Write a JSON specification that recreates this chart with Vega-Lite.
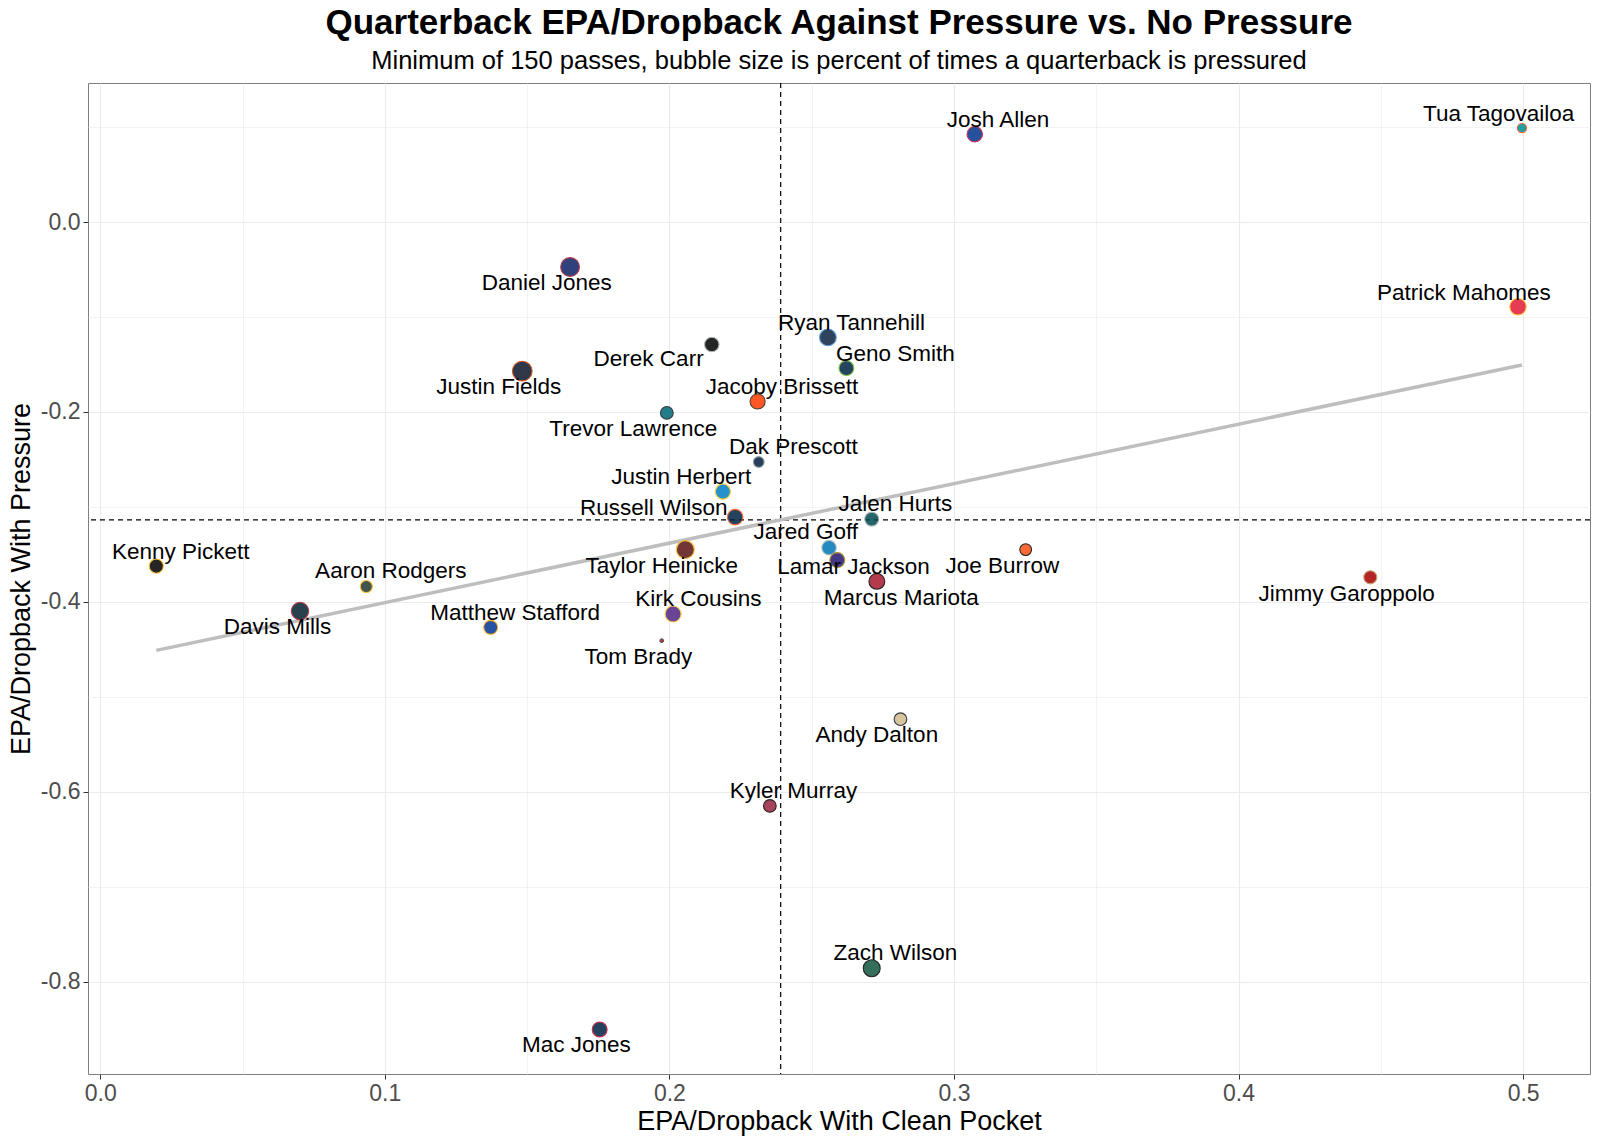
{
  "$schema": "https://vega.github.io/schema/vega-lite/v6.json",
  "width": 1502,
  "height": 991,
  "autosize": {"type": "none"},
  "padding": {"left": 88, "top": 83, "right": 10, "bottom": 69},
  "config": {
    "view": {"stroke": "#7f7f7f", "strokeWidth": 1},
    "font": "Liberation Sans"
  },
  "title": {
    "text": "Quarterback EPA/Dropback Against Pressure vs. No Pressure",
    "subtitle": "Minimum of 150 passes, bubble size is percent of times a quarterback is pressured",
    "anchor": "middle",
    "frame": "group",
    "font": "Liberation Sans",
    "subtitleFont": "Liberation Sans",
    "fontSize": 35,
    "fontWeight": "bold",
    "subtitleFontSize": 25.5,
    "color": "#000000",
    "subtitleColor": "#000000",
    "offset": 8,
    "subtitlePadding": 8
  },
  "data": {
    "values": [
      {"player": "Tua Tagovailoa", "fill": "#008E97", "stroke": "#FC4C02", "clean": 0.4996, "press": 0.099, "pct": 19.9, "lx": 0.4914, "ly": 0.114},
      {"player": "Josh Allen", "fill": "#00338D", "stroke": "#C60C30", "clean": 0.3073, "press": 0.0925, "pct": 30.0, "lx": 0.3155, "ly": 0.1075},
      {"player": "Daniel Jones", "fill": "#0B2265", "stroke": "#A71930", "clean": 0.1651, "press": -0.0473, "pct": 37.6, "lx": 0.1569, "ly": -0.0645},
      {"player": "Patrick Mahomes", "fill": "#E31837", "stroke": "#FFB612", "clean": 0.4982, "press": -0.0892, "pct": 32.0, "lx": 0.4792, "ly": -0.0742},
      {"player": "Ryan Tannehill", "fill": "#0C2340", "stroke": "#4B92DB", "clean": 0.2557, "press": -0.1215, "pct": 32.8, "lx": 0.264, "ly": -0.1065},
      {"player": "Derek Carr", "fill": "#000000", "stroke": "#A5ACAF", "clean": 0.2149, "press": -0.129, "pct": 28.2, "lx": 0.1927, "ly": -0.1441},
      {"player": "Geno Smith", "fill": "#002244", "stroke": "#69BE28", "clean": 0.2622, "press": -0.1538, "pct": 28.9, "lx": 0.2794, "ly": -0.1387},
      {"player": "Justin Fields", "fill": "#0B162A", "stroke": "#C83803", "clean": 0.1483, "press": -0.157, "pct": 40.0, "lx": 0.14, "ly": -0.1742},
      {"player": "Jacoby Brissett", "fill": "#FF3C00", "stroke": "#311D00", "clean": 0.231, "press": -0.189, "pct": 29.3, "lx": 0.2396, "ly": -0.1742},
      {"player": "Trevor Lawrence", "fill": "#006778", "stroke": "#101820", "clean": 0.1991, "press": -0.201, "pct": 24.8, "lx": 0.1873, "ly": -0.2183},
      {"player": "Dak Prescott", "fill": "#041E42", "stroke": "#869397", "clean": 0.2314, "press": -0.2527, "pct": 21.9, "lx": 0.2436, "ly": -0.2366},
      {"player": "Justin Herbert", "fill": "#0080C6", "stroke": "#FFC20E", "clean": 0.2188, "press": -0.2839, "pct": 29.3, "lx": 0.2042, "ly": -0.2688},
      {"player": "Russell Wilson", "fill": "#002244", "stroke": "#FB4F14", "clean": 0.2231, "press": -0.3108, "pct": 30.0, "lx": 0.1945, "ly": -0.3011},
      {"player": "Jalen Hurts", "fill": "#004C54", "stroke": "#A5ACAF", "clean": 0.2711, "press": -0.3129, "pct": 27.1, "lx": 0.2794, "ly": -0.2968},
      {"player": "Jared Goff", "fill": "#0076B6", "stroke": "#B0B7BC", "clean": 0.2561, "press": -0.343, "pct": 28.2, "lx": 0.2479, "ly": -0.3269},
      {"player": "Taylor Heinicke", "fill": "#5A1414", "stroke": "#FFB612", "clean": 0.2056, "press": -0.345, "pct": 35.4, "lx": 0.1973, "ly": -0.3624},
      {"player": "Joe Burrow", "fill": "#FB4F14", "stroke": "#000000", "clean": 0.3252, "press": -0.345, "pct": 23.3, "lx": 0.317, "ly": -0.3624},
      {"player": "Lamar Jackson", "fill": "#241773", "stroke": "#9E7C0C", "clean": 0.259, "press": -0.356, "pct": 28.9, "lx": 0.2647, "ly": -0.3634},
      {"player": "Kenny Pickett", "fill": "#000000", "stroke": "#FFB612", "clean": 0.0197, "press": -0.3624, "pct": 27.5, "lx": 0.0283, "ly": -0.3473},
      {"player": "Marcus Mariota", "fill": "#A71930", "stroke": "#000000", "clean": 0.2729, "press": -0.3785, "pct": 30.8, "lx": 0.2815, "ly": -0.3957},
      {"player": "Jimmy Garoppolo", "fill": "#AA0000", "stroke": "#B3995D", "clean": 0.4463, "press": -0.3742, "pct": 25.5, "lx": 0.438, "ly": -0.3914},
      {"player": "Aaron Rodgers", "fill": "#203731", "stroke": "#FFB612", "clean": 0.0935, "press": -0.3839, "pct": 23.9, "lx": 0.1021, "ly": -0.3677},
      {"player": "Davis Mills", "fill": "#03202F", "stroke": "#A71930", "clean": 0.0702, "press": -0.4097, "pct": 34.1, "lx": 0.0623, "ly": -0.4269},
      {"player": "Kirk Cousins", "fill": "#4F2683", "stroke": "#FFC62F", "clean": 0.2013, "press": -0.4129, "pct": 31.2, "lx": 0.2102, "ly": -0.3968},
      {"player": "Matthew Stafford", "fill": "#003594", "stroke": "#FFA300", "clean": 0.1372, "press": -0.4269, "pct": 27.1, "lx": 0.1458, "ly": -0.4118},
      {"player": "Tom Brady", "fill": "#D50A0A", "stroke": "#34302B", "clean": 0.1973, "press": -0.4409, "pct": 15.0, "lx": 0.1891, "ly": -0.4581},
      {"player": "Andy Dalton", "fill": "#D3BC8D", "stroke": "#101820", "clean": 0.2812, "press": -0.5237, "pct": 24.8, "lx": 0.2729, "ly": -0.5398},
      {"player": "Kyler Murray", "fill": "#97233F", "stroke": "#000000", "clean": 0.2353, "press": -0.615, "pct": 24.8, "lx": 0.2436, "ly": -0.5989},
      {"player": "Zach Wilson", "fill": "#125740", "stroke": "#000000", "clean": 0.2711, "press": -0.786, "pct": 33.2, "lx": 0.2794, "ly": -0.7699},
      {"player": "Mac Jones", "fill": "#002244", "stroke": "#C60C30", "clean": 0.1755, "press": -0.8505, "pct": 28.9, "lx": 0.1673, "ly": -0.8667}
    ]
  },
  "encoding": {
    "x": {
      "field": "clean",
      "type": "quantitative",
      "scale": {"domain": [-0.0043, 0.5235], "nice": false, "zero": false},
      "axis": {
        "title": "EPA/Dropback With Clean Pocket",
        "values": [0, 0.05, 0.1, 0.15, 0.2, 0.25, 0.3, 0.35, 0.4, 0.45, 0.5],
        "labelExpr": "round(datum.value*20) % 2 != 0 ? '' : format(datum.value, '.1f')",
        "grid": true,
        "gridColor": "#ebebeb",
        "gridWidth": {"condition": {"test": "round(datum.value*20) % 2 != 0", "value": 0.6}, "value": 1.1},
        "tickOpacity": {"condition": {"test": "round(datum.value*20) % 2 != 0", "value": 0}, "value": 1},
        "tickColor": "#333333",
        "tickSize": 5,
        "domain": false,
        "labelFontSize": 23,
        "labelColor": "#4d4d4d",
        "labelPadding": 3,
        "labelFlush": false,
        "titleFontSize": 27,
        "titleFontWeight": "normal",
        "titleColor": "#000000",
        "titlePadding": 3
      }
    },
    "y": {
      "field": "press",
      "type": "quantitative",
      "scale": {"domain": [-0.8974, 0.1465], "nice": false, "zero": false},
      "axis": {
        "title": "EPA/Dropback With Pressure",
        "values": [0.1, 0, -0.1, -0.2, -0.3, -0.4, -0.5, -0.6, -0.7, -0.8],
        "labelExpr": "round(datum.value*10) % 2 != 0 ? '' : (datum.value < -0.001 ? '-' + format(-datum.value, '.1f') : format(abs(datum.value), '.1f'))",
        "grid": true,
        "gridColor": "#ebebeb",
        "gridWidth": {"condition": {"test": "round(datum.value*10) % 2 != 0", "value": 0.6}, "value": 1.1},
        "tickOpacity": {"condition": {"test": "round(datum.value*10) % 2 != 0", "value": 0}, "value": 1},
        "tickColor": "#333333",
        "tickSize": 5,
        "domain": false,
        "labelFontSize": 23,
        "labelColor": "#4d4d4d",
        "labelPadding": 3,
        "labelFlush": false,
        "titleFontSize": 27,
        "titleFontWeight": "normal",
        "titleColor": "#000000",
        "titlePadding": 5
      }
    }
  },
  "layer": [
    {
      "transform": [{"aggregate": [{"op": "mean", "field": "clean", "as": "mx"}]}],
      "mark": {"type": "rule", "color": "#000000", "strokeWidth": 1.2, "strokeDash": [5, 4]},
      "encoding": {"x": {"field": "mx", "type": "quantitative"}, "y": null}
    },
    {
      "transform": [{"aggregate": [{"op": "mean", "field": "press", "as": "my"}]}],
      "mark": {"type": "rule", "color": "#000000", "strokeWidth": 1.2, "strokeDash": [5, 4]},
      "encoding": {"y": {"field": "my", "type": "quantitative"}, "x": null}
    },
    {
      "transform": [{"regression": "press", "on": "clean"}],
      "mark": {"type": "line", "color": "#bebebe", "strokeWidth": 3.5},
      "encoding": {}
    },
    {
      "mark": {"type": "circle", "opacity": 0.85, "strokeWidth": 1.1},
      "encoding": {
        "fill": {"field": "fill", "type": "nominal", "scale": null},
        "stroke": {"field": "stroke", "type": "nominal", "scale": null},
        "size": {"field": "pct", "type": "quantitative", "scale": {"domain": [15, 40], "range": [12, 390], "zero": false}, "legend": null}
      }
    },
    {
      "mark": {"type": "text", "fontSize": 22.5, "color": "#000000", "align": "center", "baseline": "middle", "font": "Liberation Sans"},
      "encoding": {
        "x": {"field": "lx", "type": "quantitative"},
        "y": {"field": "ly", "type": "quantitative"},
        "text": {"field": "player", "type": "nominal"}
      }
    }
  ]
}
